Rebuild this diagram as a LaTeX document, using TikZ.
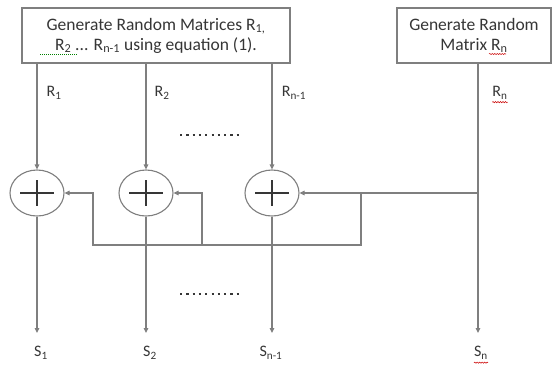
\documentclass[tikz,border=0pt]{standalone}
\usepackage{fontspec}
\setmainfont{Carlito}
\usetikzlibrary{arrows.meta,shapes.geometric,decorations.pathmorphing}
\definecolor{linegray}{HTML}{7F7F7F}
\definecolor{textgray}{HTML}{363636}
\begin{document}
\begin{tikzpicture}[x=1pt,y=-1pt,
  line/.style={draw=linegray, line width=1.1pt},
  arr/.style={line, -{Triangle[length=5pt,width=4.5pt]}},
  genbox/.style={draw=linegray, line width=1.1pt, rectangle, inner sep=0pt,
    align=center, text=textgray, font=\fontsize{17.5}{20}\selectfont},
  adder/.style={ellipse, draw=linegray, line width=1.1pt, minimum width=54pt,
    minimum height=46pt, inner sep=0pt},
  lbl/.style={text=textgray, font=\fontsize{16}{18}\selectfont, inner sep=0pt},
  dots/.style={draw=textgray, line width=2.2pt, dash pattern=on 2.2pt off 4.1pt},
  wavy/.style={draw=red!80!black, line width=0.5pt, decorate,
    decoration={snake, amplitude=0.6pt, segment length=2.5pt}},
  greendot/.style={draw=green!50!black, line width=0.7pt, dash pattern=on 1pt off 1pt}]
\useasboundingbox (0,0) rectangle (552,365);
\fill[white] (0,0) rectangle (552,365);
% boxes
\node[genbox, minimum width=268pt, minimum height=55pt] (gen) at (156,35.5)
  {Generate Random Matrices R\textsubscript{1,}\\R\textsubscript{2} ... R\textsubscript{n-1} using equation (1).};
\node[genbox, minimum width=154pt, minimum height=55pt] (genn) at (474,35.5)
  {Generate Random\\Matrix R\textsubscript{n}};
% adders
\foreach \n/\x in {c1/37, c2/146, c3/272}{
  \node[adder] (\n) at (\x,193) {};
  \draw[textgray, line width=1.3pt] (\n.center) ++(-17,0) -- ++(34,0);
  \draw[textgray, line width=1.3pt] (\n.center) ++(0,-13) -- ++(0,26);
}
% coordinates
\coordinate (rn) at (478,63);
\coordinate (j) at (478,193);
\coordinate (e1) at (37,333);
\coordinate (e2) at (146,333);
\coordinate (e3) at (272,333);
\coordinate (e4) at (478,333);
\coordinate (b1) at (361,193);
\coordinate (fb) at (93,245);
\coordinate (fc) at (202,245);
% inputs
\draw[arr] (c1 |- gen.south) -- (c1.north);
\draw[arr] (c2 |- gen.south) -- (c2.north);
\draw[arr] (c3 |- gen.south) -- (c3.north);
\draw[arr] (rn) -- (e4);
% outputs
\draw[arr] (c1.south) -- (e1);
\draw[arr] (c2.south) -- (e2);
\draw[arr] (c3.south) -- (e3);
% feedback
\draw[arr] (j) -- (c3.east);
\draw[arr] (b1) |- (fb) -- (fb |- c1.east) -- (c1.east);
\draw[arr] (fc) -- (fc |- c2.east) -- (c2.east);
% labels
\node[lbl] (r1) at (54,93) {R\textsubscript{1}};
\node[lbl] (r2) at (162,93) {R\textsubscript{2}};
\node[lbl] (r3) at (294,93) {R\textsubscript{n-1}};
\node[lbl] (r4) at (500,93) {R\textsubscript{n}};
\node[lbl] (s1) at (41,353) {S\textsubscript{1}};
\node[lbl] (s2) at (150,353) {S\textsubscript{2}};
\node[lbl] (s3) at (271,353) {S\textsubscript{n-1}};
\node[lbl] (s4) at (481,353) {S\textsubscript{n}};
% dots
\draw[dots] (180,135) -- (239,135);
\draw[dots] (180,294) -- (239,294);
% proofing underlines
\draw[wavy] ([yshift=-2.5pt]r4.south west) -- ([yshift=-2.5pt]r4.south east);
\draw[wavy] ([yshift=-3pt]s4.south west) -- ([yshift=-3pt]s4.south east);
\draw[wavy] (489,54) -- (506,54);
\draw[greendot] (40,54) -- (77,54);
\end{tikzpicture}
\end{document}
